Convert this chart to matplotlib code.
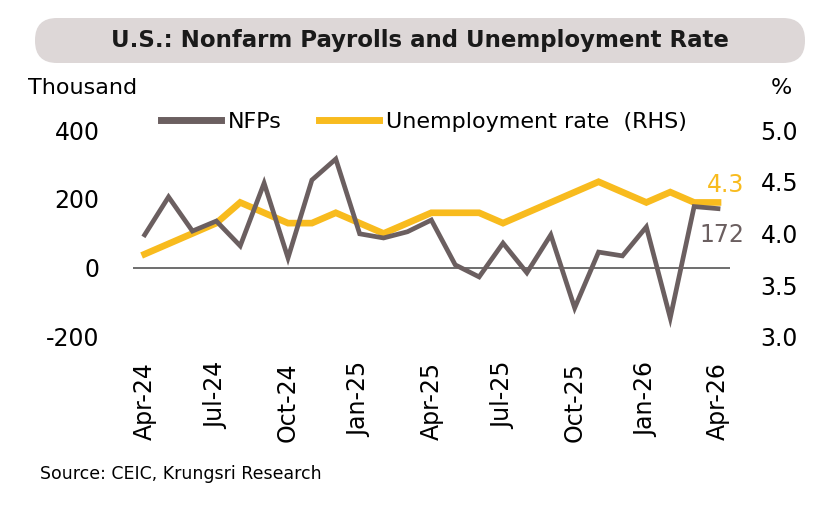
import matplotlib.pyplot as plt
from matplotlib.patches import FancyBboxPatch

months = ['Apr-24', 'May-24', 'Jun-24', 'Jul-24', 'Aug-24', 'Sep-24', 'Oct-24',
          'Nov-24', 'Dec-24', 'Jan-25', 'Feb-25', 'Mar-25', 'Apr-25', 'May-25',
          'Jun-25', 'Jul-25', 'Aug-25', 'Sep-25', 'Oct-25', 'Nov-25', 'Dec-25',
          'Jan-26', 'Feb-26', 'Mar-26', 'Apr-26']
nfp = [96, 206, 107, 136, 64, 246, 29, 255, 316, 99, 87, 105, 139, 9, -26,
       72, -14, 96, -116, 46, 35, 119, -145, 178, 172]
unemp = [3.8, 3.9, 4.0, 4.1, 4.3, 4.2, 4.1, 4.1, 4.2, 4.1, 4.0, 4.1, 4.2, 4.2,
         4.2, 4.1, 4.2, 4.3, 4.4, 4.5, 4.4, 4.3, 4.4, 4.3, 4.3]

gray = '#6b5f60'
yellow = '#f8bb1e'
plt.rcParams['font.family'] = ['DejaVu Sans']
plt.rcParams['axes.unicode_minus'] = False

fig = plt.figure(figsize=(8.4, 5.12), dpi=100)

# background axes in pixel units, for the title pill
bg = fig.add_axes([0, 0, 1, 1])
bg.set_xlim(0, 840)
bg.set_ylim(512, 0)
bg.axis('off')
bg.add_patch(FancyBboxPatch((35, 18), 770, 45, boxstyle='round,pad=0,rounding_size=22',
                            facecolor='#ddd7d7', edgecolor='none'))
bg.text(420, 41, 'U.S.: Nonfarm Payrolls and Unemployment Rate', fontsize=16.5,
        fontweight='bold', ha='center', va='center', color='#1a1a1a')

ax = fig.add_axes([0.158, 0.342, 0.711, 0.404])
ax2 = ax.twinx()

x = list(range(len(months)))
ax.plot(x, nfp, color=gray, lw=3.4, solid_joinstyle='miter', zorder=3)
ax2.plot(x, unemp, color=yellow, lw=4.8, solid_joinstyle='miter', zorder=2)
ax.set_zorder(ax2.get_zorder() + 1)
ax.patch.set_visible(False)

ax.axhline(0, color='#555555', lw=1.2, zorder=1)
ax.set_xlim(-0.5, 24.5)
ax.set_ylim(-200, 400)
ax.set_yticks([-200, 0, 200, 400])
ax2.set_ylim(3.0, 5.0)
ax2.set_yticks([3.0, 3.5, 4.0, 4.5, 5.0])
ax2.set_yticklabels(['3.0', '3.5', '4.0', '4.5', '5.0'])

ax.set_xticks(x[::3])
ax.set_xticklabels(months[::3], rotation=90, fontsize=17)
ax.tick_params(axis='x', length=0, pad=18)
ax.tick_params(axis='y', length=0, labelsize=17, pad=24)
ax2.tick_params(axis='y', length=0, labelsize=17, pad=22)
for a in (ax, ax2):
    for s in a.spines.values():
        s.set_visible(False)

# annotations for latest values
ax2.text(25.1, 4.47, '4.3', color=yellow, fontsize=17, ha='right', va='center', clip_on=False)
ax.text(25.1, 95, '172', color=gray, fontsize=17, ha='right', va='center', clip_on=False)

# legend
h_nfp = plt.Line2D([], [], color=gray, lw=5)
h_ur = plt.Line2D([], [], color=yellow, lw=5)
fig.legend([h_nfp, h_ur], ['NFPs', 'Unemployment rate  (RHS)'], loc='center left',
           bbox_to_anchor=(0.168, 0.762), ncol=2, frameon=False, fontsize=16,
           handlelength=2.7, handletextpad=0.3, columnspacing=1.7)

fig.text(0.033, 0.828, 'Thousand', fontsize=16, va='center')
fig.text(0.93, 0.828, '%', fontsize=16, va='center', ha='center')

fig.text(0.048, 0.075, 'Source: CEIC, Krungsri Research', fontsize=12.5, va='center')

fig.savefig('out.png', dpi=100)
